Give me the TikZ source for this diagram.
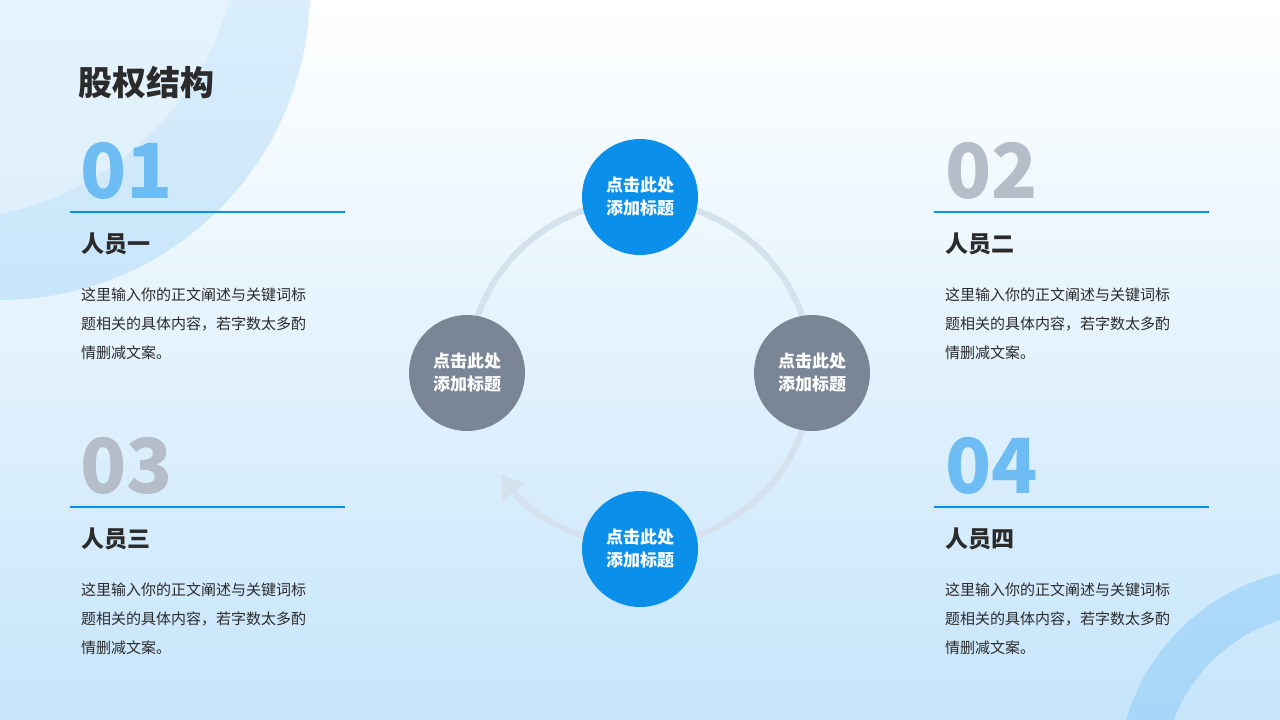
\documentclass[tikz,border=0pt]{standalone}
\usepackage{fontspec}
\setmainfont{Noto Sans CJK SC}
\usetikzlibrary{arrows.meta}
\definecolor{bg1}{HTML}{FFFFFF}
\definecolor{bg2}{HTML}{C6E5FB}
\definecolor{mainblue}{HTML}{0A8FEA}
\definecolor{numblue}{HTML}{6DBDF4}
\definecolor{numgray}{HTML}{B4BDC8}
\definecolor{nodegray}{HTML}{7A8596}
\definecolor{ringc}{HTML}{D5E1EC}
\definecolor{txt}{HTML}{2B2B2B}
\tikzset{
  num/.style={anchor=base west,font=\fontsize{76}{80}\selectfont\bfseries,inner sep=0},
  pname/.style={anchor=west,font=\fontsize{23}{26}\selectfont\bfseries,text=txt,inner sep=0},
  body/.style={anchor=north west,align=left,font=\fontsize{15}{29}\selectfont,text=txt,inner sep=0},
  sep/.style={mainblue,line width=2.5pt},
  bubble/.style={circle,minimum size=116pt,inner sep=0,align=center,text=white,font=\fontsize{17}{23}\selectfont\bfseries},
}
\begin{document}
\begin{tikzpicture}[x=1pt,y=-1pt]
\useasboundingbox (0,0) rectangle (1280,720);
\shade[top color=bg1,bottom color=bg2] (0,0) rectangle (1280,720);
\begin{scope}
\clip (0,0) rectangle (1280,720);
\fill[numblue,opacity=0.25] (0,-10) circle (310);
\fill[white,opacity=0.35] (-60,-80) circle (300);
\draw[numblue,opacity=0.35,line width=45pt] (1330,780) circle (190);
\end{scope}
\node[anchor=base west,inner sep=0,font=\fontsize{34}{38}\selectfont\bfseries,text=txt] (title) at (78,95) {股权结构};
% ring
\coordinate (c) at (640,373);
\draw[ringc,line width=6pt] (640,545) arc[start angle=90,end angle=-180,radius=172];
\draw[ringc,line width=6pt,-{Triangle[length=22pt,width=26pt]}] (640,545) arc[start angle=90,end angle=144,radius=172];
\node[bubble,fill=mainblue] (t) at (640,197) {点击此处\\添加标题};
\node[bubble,fill=nodegray] (r) at (812,373) {点击此处\\添加标题};
\node[bubble,fill=mainblue] (b) at (640,549) {点击此处\\添加标题};
\node[bubble,fill=nodegray] (l) at (467,373) {点击此处\\添加标题};
% blocks
\node[num,text=numblue] (n1) at (80,198) {01};
\draw[sep] (70,212) -- (345,212);
\node[pname] (p1) at (81,244) {人员一};
\node[body] (d1) at (81,288) {这里输入你的正文阐述与关键词标\\题相关的具体内容，若字数太多酌\\情删减文案。};
\node[num,text=numgray] (n2) at (945,198) {02};
\draw[sep] (934,212) -- (1209,212);
\node[pname] (p2) at (945,244) {人员二};
\node[body] (d2) at (945,288) {这里输入你的正文阐述与关键词标\\题相关的具体内容，若字数太多酌\\情删减文案。};
\node[num,text=numgray] (n3) at (80,493) {03};
\draw[sep] (70,507) -- (345,507);
\node[pname] (p3) at (81,539) {人员三};
\node[body] (d3) at (81,583) {这里输入你的正文阐述与关键词标\\题相关的具体内容，若字数太多酌\\情删减文案。};
\node[num,text=numblue] (n4) at (945,493) {04};
\draw[sep] (934,507) -- (1209,507);
\node[pname] (p4) at (945,539) {人员四};
\node[body] (d4) at (945,583) {这里输入你的正文阐述与关键词标\\题相关的具体内容，若字数太多酌\\情删减文案。};
\end{tikzpicture}
\end{document}
